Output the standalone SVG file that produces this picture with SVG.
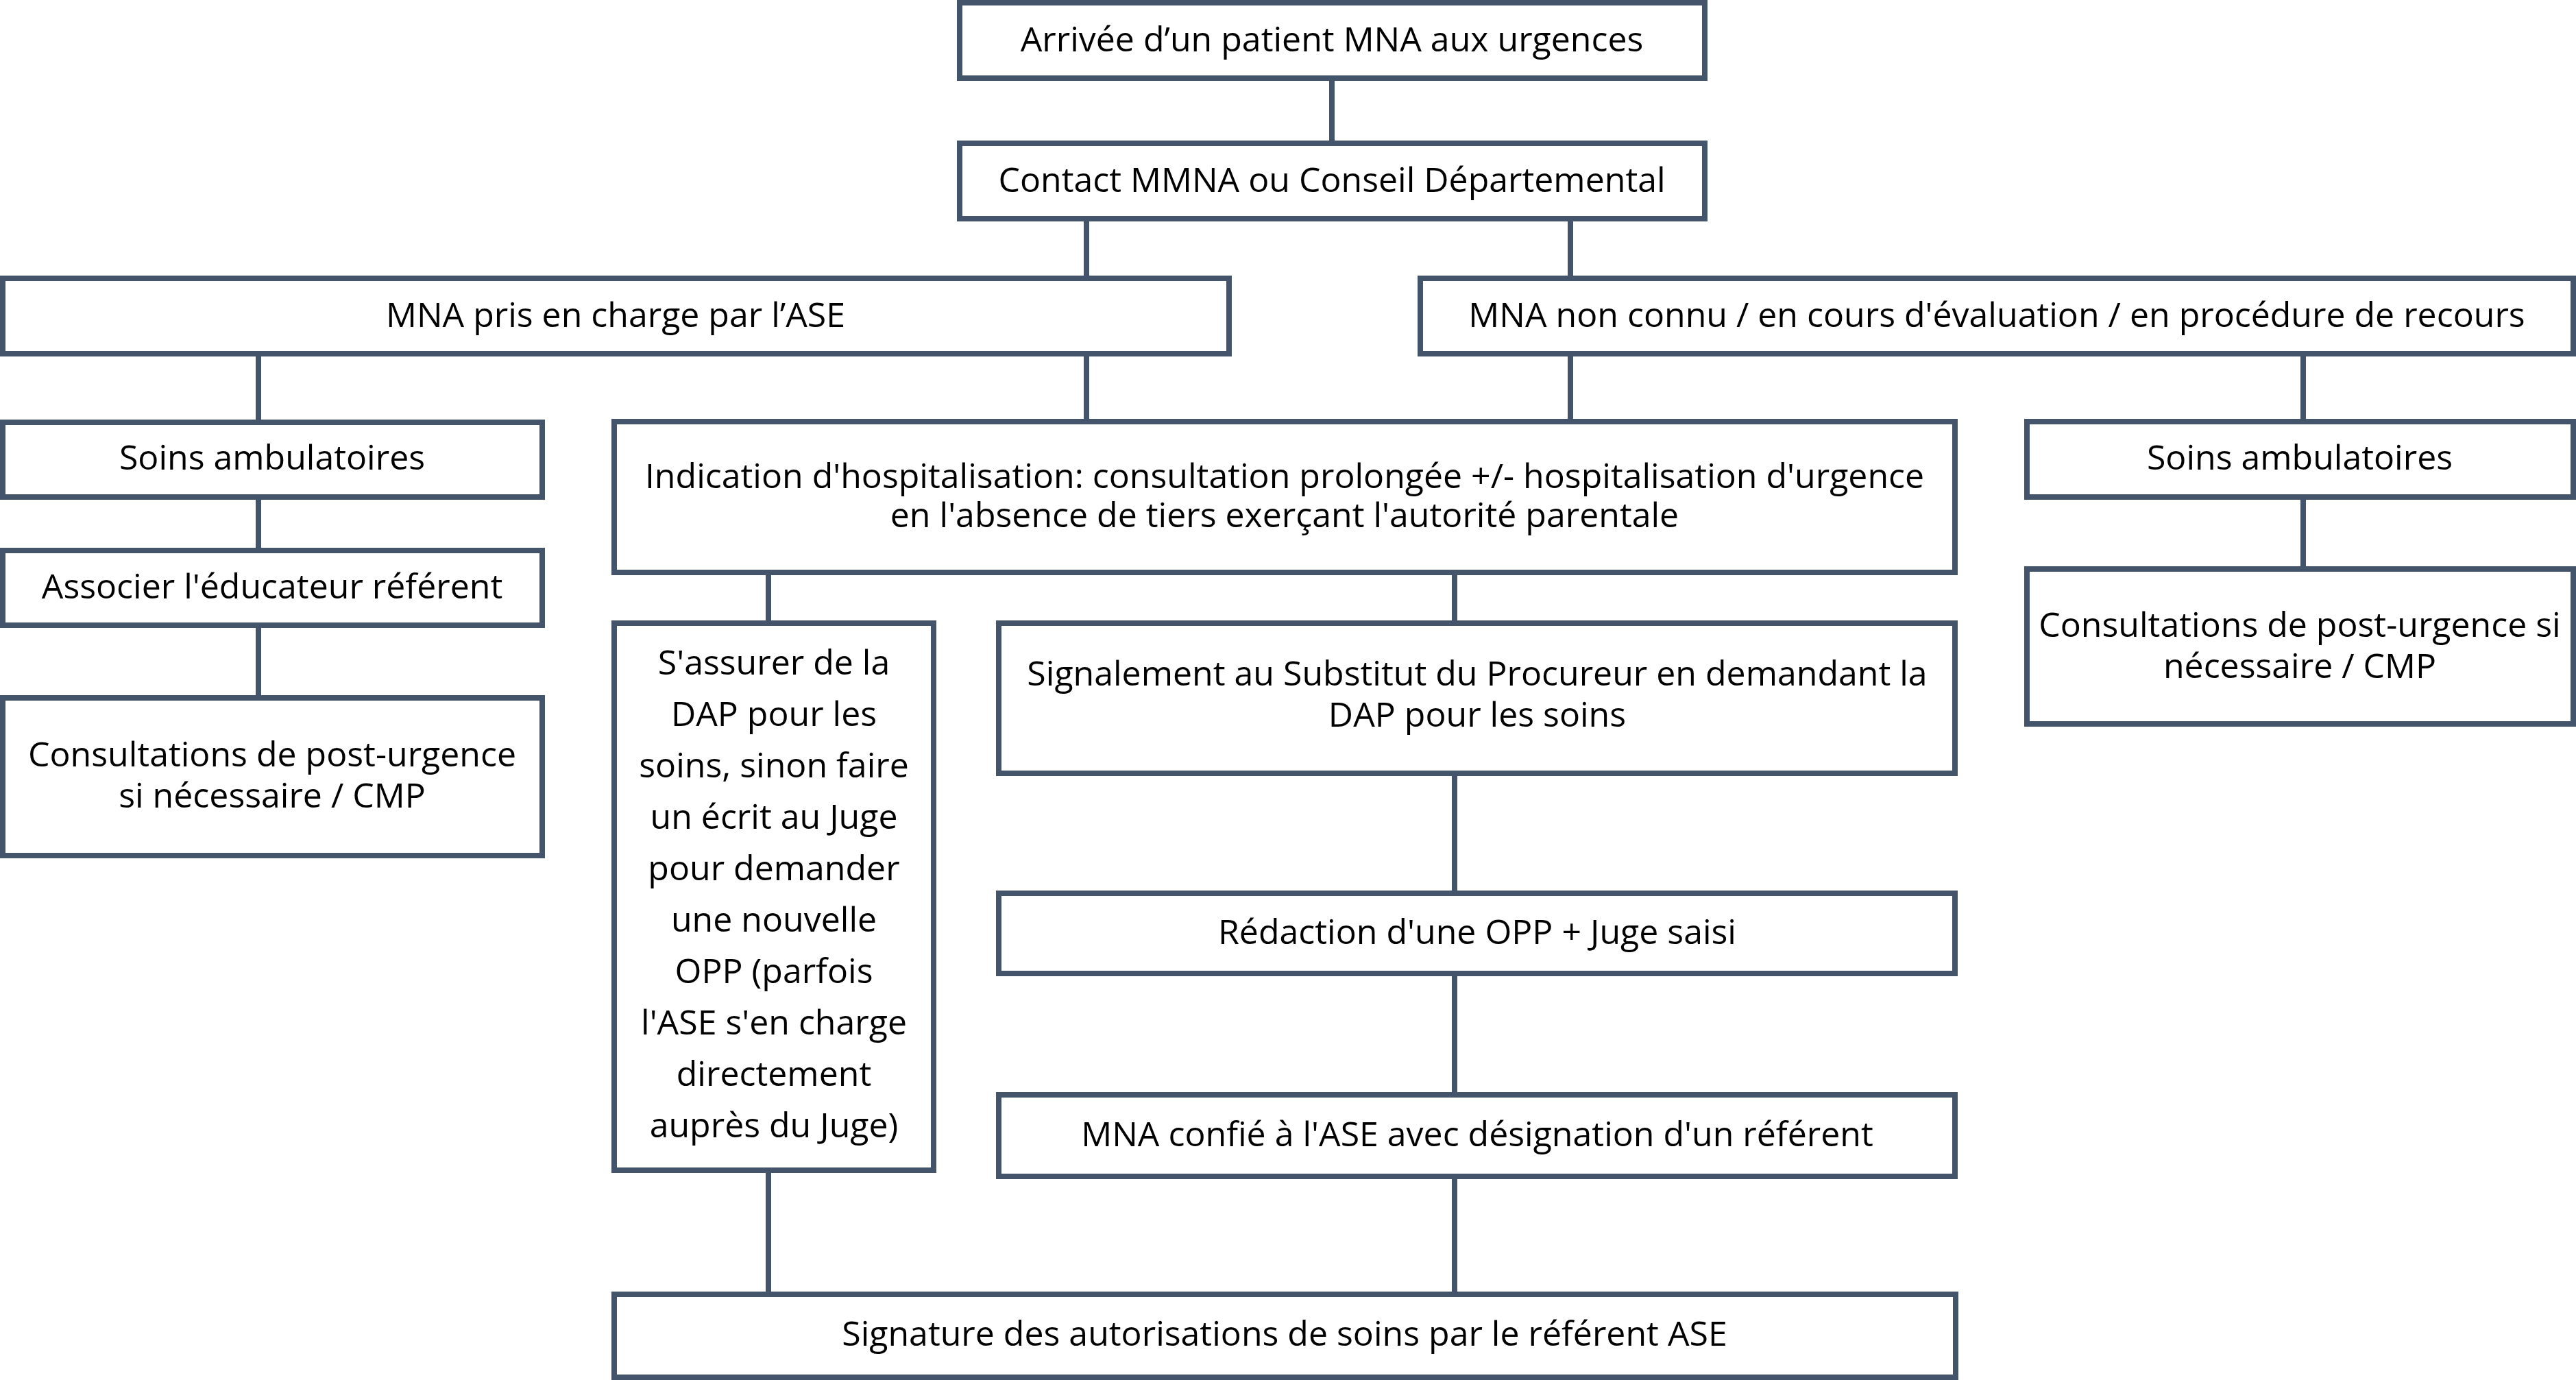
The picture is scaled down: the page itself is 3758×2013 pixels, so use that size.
<svg xmlns="http://www.w3.org/2000/svg" width="3758" height="2013" viewBox="0 0 3758 2013">
<style>
.box{fill:#ffffff;stroke:#44546a;stroke-width:8}
.c{stroke:#44546a;stroke-width:8;fill:none}
text{font-family:"Open Sans","Noto Sans","DejaVu Sans",sans-serif;font-size:50px;fill:#000;text-anchor:middle}
</style>
<rect width="3758" height="2013" fill="#ffffff"/>
<g id="connectors">
<line class="c" x1="1943" y1="114" x2="1943" y2="209"/>
<line class="c" x1="1585" y1="319" x2="1585" y2="406"/>
<line class="c" x1="2291" y1="319" x2="2291" y2="406"/>
<line class="c" x1="1585" y1="516" x2="1585" y2="615"/>
<line class="c" x1="2291" y1="516" x2="2291" y2="615"/>
<line class="c" x1="377" y1="516" x2="377" y2="616"/>
<line class="c" x1="377" y1="725" x2="377" y2="803"/>
<line class="c" x1="377" y1="912" x2="377" y2="1018"/>
<line class="c" x1="3360" y1="516" x2="3360" y2="615"/>
<line class="c" x1="3360" y1="725" x2="3360" y2="830"/>
<line class="c" x1="1121" y1="835" x2="1121" y2="909"/>
<line class="c" x1="1121" y1="1707" x2="1121" y2="1888"/>
<line class="c" x1="2122" y1="835" x2="2122" y2="909"/>
<line class="c" x1="2122" y1="1128" x2="2122" y2="1303"/>
<line class="c" x1="2122" y1="1420" x2="2122" y2="1597"/>
<line class="c" x1="2122" y1="1716" x2="2122" y2="1888"/>
</g>
<g id="n1"><rect class="box" x="1400" y="4" width="1087" height="110"/><text x="1943" y="75">Arrivée d’un patient MNA aux urgences</text></g>
<g id="n2"><rect class="box" x="1400" y="209" width="1087" height="110"/><text x="1943" y="280">Contact MMNA ou Conseil Départemental</text></g>
<g id="n3"><rect class="box" x="4" y="406" width="1789" height="110"/><text x="898" y="477">MNA pris en charge par l’ASE</text></g>
<g id="n4"><rect class="box" x="2072" y="406" width="1682" height="110"/><text x="2913" y="477">MNA non connu / en cours d'évaluation / en procédure de recours</text></g>
<g id="n5"><rect class="box" x="4" y="616" width="787" height="109"/><text x="397" y="685">Soins ambulatoires</text></g>
<g id="n6"><rect class="box" x="4" y="803" width="787" height="109"/><text x="397" y="873">Associer l'éducateur référent</text></g>
<g id="n7"><rect class="box" x="4" y="1018" width="787" height="230"/><text x="397" y="1118"><tspan x="397" y="1118">Consultations de post-urgence</tspan><tspan x="397" y="1178">si nécessaire / CMP</tspan></text></g>
<g id="n8"><rect class="box" x="896" y="615" width="1956" height="220"/><text x="1874" y="712"><tspan x="1874" y="712">Indication d'hospitalisation: consultation prolongée +/- hospitalisation d'urgence</tspan><tspan x="1874" y="769">en l'absence de tiers exerçant l'autorité parentale</tspan></text></g>
<g id="n9"><rect class="box" x="2957" y="615" width="797" height="110"/><text x="3355" y="685">Soins ambulatoires</text></g>
<g id="n10"><rect class="box" x="2957" y="830" width="797" height="226"/><text x="3355" y="929"><tspan x="3355" y="929">Consultations de post-urgence si</tspan><tspan x="3355" y="989">nécessaire / CMP</tspan></text></g>
<g id="n11"><rect class="box" x="896" y="909" width="466" height="798"/>
<text x="1129" y="984">S'assurer de la</text><text x="1129" y="1059">DAP pour les</text><text x="1129" y="1134">soins, sinon faire</text><text x="1129" y="1209">un écrit au Juge</text><text x="1129" y="1284">pour demander</text><text x="1129" y="1359">une nouvelle</text><text x="1129" y="1434">OPP (parfois</text><text x="1129" y="1509">l'ASE s'en charge</text><text x="1129" y="1584">directement</text><text x="1129" y="1659">auprès du Juge)</text></g>
<g id="n12"><rect class="box" x="1457" y="909" width="1395" height="219"/><text x="2155" y="1000"><tspan x="2155" y="1000">Signalement au Substitut du Procureur en demandant la</tspan><tspan x="2155" y="1060">DAP pour les soins</tspan></text></g>
<g id="n13"><rect class="box" x="1457" y="1303" width="1395" height="117"/><text x="2155" y="1377">Rédaction d'une OPP + Juge saisi</text></g>
<g id="n14"><rect class="box" x="1457" y="1597" width="1395" height="119"/><text x="2155" y="1672">MNA confié à l'ASE avec désignation d'un référent</text></g>
<g id="n15"><rect class="box" x="896" y="1888" width="1957" height="121"/><text x="1874" y="1963">Signature des autorisations de soins par le référent ASE</text></g>
</svg>
